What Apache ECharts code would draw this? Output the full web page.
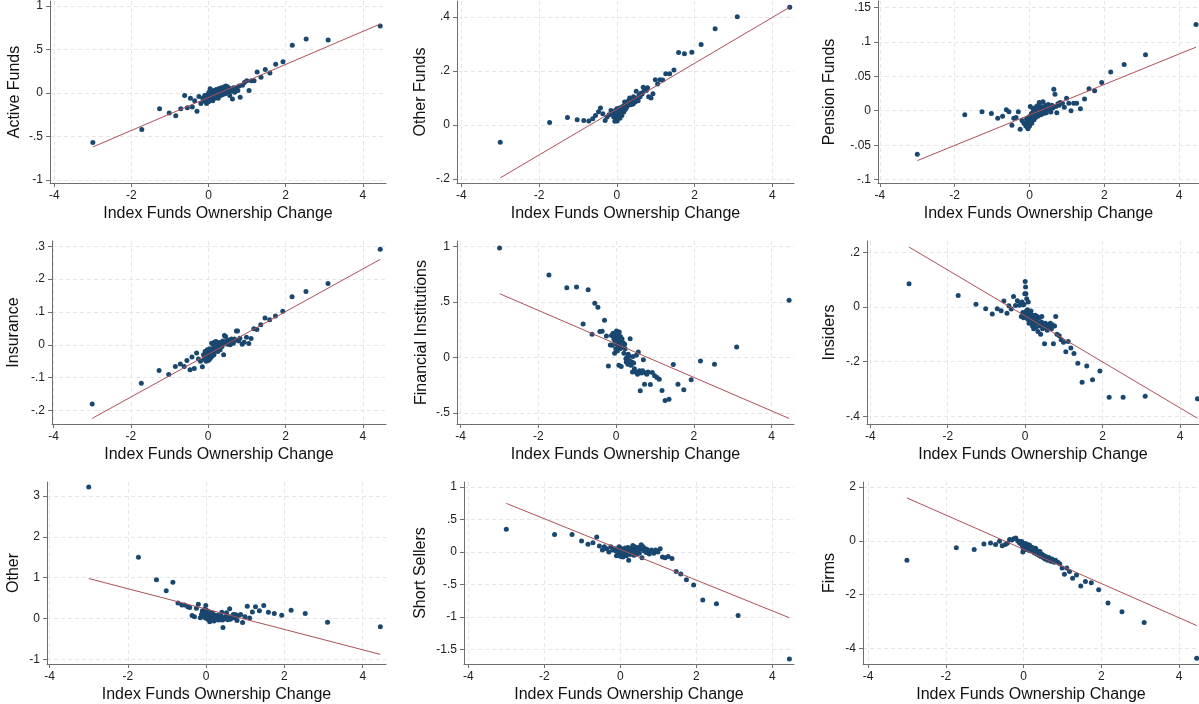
<!DOCTYPE html>
<html>
<head>
<meta charset="utf-8">
<script src="https://cdn.jsdelivr.net/npm/echarts@6/dist/echarts.min.js"></script>
<style>
  html, body { margin: 0; padding: 0; background: #fff; }
  #chart { width: 1199px; height: 704px; }
</style>
</head>
<body>
<div id="chart"></div>
<script>
// shared x: index funds ownership change (left tail, cluster, right tail)
var xChange = [
  -3.0, -1.73, -1.27, -1.02, -0.85, -0.72, -0.62, -0.55, -0.47, -0.42, -0.36, -0.30, -0.25, -0.20, -0.15,
  -0.12, -0.10, -0.08, -0.06, -0.05, -0.04, -0.03, -0.02, -0.01, 0.00,
  0.01, 0.02, 0.03, 0.04, 0.05, 0.06, 0.07, 0.08, 0.09, 0.10,
  0.11, 0.12, 0.13, 0.14, 0.15, 0.16, 0.18, 0.19, 0.20, 0.22,
  0.23, 0.25, 0.26, 0.28, 0.30, 0.31, 0.33, 0.35, 0.36, 0.38,
  0.40, 0.42, 0.43, 0.45, 0.47, 0.50, 0.52, 0.55, 0.57, 0.60,
  0.62, 0.65, 0.68, 0.70, 0.73, 0.76, 0.79, 0.82,
  0.88, 0.93, 0.99, 1.05, 1.11, 1.18, 1.26, 1.36, 1.47, 1.59, 1.74, 1.93, 2.17, 2.53, 3.1, 4.45
];

var activeFunds = [
  -0.57, -0.42, -0.18, -0.23, -0.26, -0.18, -0.03, -0.17, -0.06, -0.16, -0.09, -0.21, -0.04, -0.12, -0.06,
  -0.09, -0.03, -0.10, -0.05, -0.12, -0.07, -0.02, -0.08, -0.04, -0.10,
  0.01, -0.06, -0.03, 0.05, -0.08, -0.01, -0.05, 0.02, -0.07, -0.03,
  -0.09, 0.00, -0.05, 0.03, -0.02, -0.06, 0.01, -0.04, 0.04, -0.02,
  0.02, -0.06, 0.05, 0.00, 0.03, -0.03, 0.06, 0.01, -0.02, 0.04,
  0.07, 0.02, -0.01, 0.08, 0.04, 0.07, 0.01, -0.03, 0.05, 0.02,
  -0.07, 0.06, 0.01, 0.04, 0.06, 0.03, 0.08, -0.05,
  0.09, 0.12, 0.14, 0.03, 0.14, 0.14, 0.24, 0.18, 0.27, 0.23, 0.33, 0.36, 0.55, 0.62, 0.61, 0.77
];
var otherFunds = [
  -0.064, 0.009, 0.028, 0.020, 0.017, 0.015, 0.023, 0.035, 0.049, 0.063, 0.042, 0.017, 0.030, 0.038, 0.054,
  0.040, 0.045, 0.030, 0.050, 0.014, 0.038, 0.055, 0.020, 0.045, 0.060,
  0.015, 0.035, 0.050, 0.028, 0.062, 0.040, 0.052, 0.025, 0.058, 0.045,
  0.065, 0.050, 0.035, 0.060, 0.055, 0.070, 0.048, 0.062, 0.085, 0.058,
  0.070, 0.065, 0.080, 0.072, 0.090, 0.078, 0.100, 0.085, 0.075, 0.095,
  0.088, 0.078, 0.105, 0.092, 0.085, 0.125, 0.098, 0.090, 0.110, 0.105,
  0.118, 0.115, 0.140, 0.125, 0.135, 0.128, 0.138, 0.105,
  0.100, 0.116, 0.168, 0.152, 0.168, 0.167, 0.190, 0.190, 0.204, 0.269, 0.264, 0.270, 0.299, 0.357, 0.402, 0.437
];
var pensionFunds = [
  -0.063, -0.006, -0.0015, -0.004, -0.011, -0.008, 0.0015, -0.0015, -0.021, -0.011, -0.0097, -0.0015, -0.027, -0.014, -0.018,
  -0.018, -0.022, -0.012, -0.024, -0.016, -0.026, -0.010, -0.020, -0.014, -0.022,
  -0.008, 0.006, -0.015, -0.010, -0.004, -0.018, -0.006, -0.012, 0.003, -0.009,
  -0.002, -0.013, 0.004, -0.006, 0.000, -0.010, 0.003, -0.004, 0.007, -0.008,
  0.002, -0.005, 0.012, 0.000, -0.006, 0.006, -0.002, 0.003, 0.013, -0.004,
  0.005, 0.000, 0.008, -0.003, 0.004, 0.009, 0.002, 0.006, -0.002, 0.008,
  0.004, 0.031, 0.024, 0.006, -0.003, 0.010, 0.008, 0.012,
  0.011, 0.005, 0.018, 0.011, 0.000, 0.011, 0.011, 0.003, 0.017, 0.032, 0.029, 0.041, 0.056, 0.067, 0.081, 0.125
];
var insurance = [
  -0.18, -0.117, -0.078, -0.09, -0.066, -0.058, -0.066, -0.048, -0.076, -0.037, -0.072, -0.025, -0.043, -0.05, -0.067,
  -0.030, -0.045, -0.020, -0.038, -0.050, -0.025, -0.042, -0.015, -0.035, -0.048,
  -0.020, -0.030, -0.045, -0.012, -0.028, -0.040, -0.018, -0.025, 0.005, -0.035,
  -0.015, -0.022, 0.002, -0.010, -0.030, 0.008, -0.018, -0.005, 0.010, -0.012,
  0.000, -0.020, 0.006, -0.008, 0.002, -0.015, 0.008, 0.000, -0.005, 0.012,
  -0.030, 0.028, 0.005, 0.025, 0.010, 0.002, 0.015, 0.008, 0.000, 0.018,
  0.012, 0.005, 0.018, 0.014, 0.042, 0.042, 0.012, 0.020,
  0.002, 0.008, 0.023, 0.004, 0.019, 0.049, 0.047, 0.061, 0.082, 0.076, 0.088, 0.102, 0.146, 0.162, 0.187, 0.291
];
var financialInst = [
  0.987, 0.744, 0.63, 0.636, 0.303, 0.612, 0.21, 0.489, 0.453, 0.234, 0.237, 0.336, 0.195, -0.075, 0.114,
  0.20, 0.11, 0.22, 0.17, 0.19, 0.04, 0.15, 0.20, 0.08, 0.18,
  0.24, 0.12, 0.06, 0.20, 0.16, 0.10, -0.07, 0.23, 0.13, 0.08,
  0.19, 0.15, -0.08, 0.11, 0.17, 0.14, 0.09, 0.13, 0.04, 0.12,
  0.08, -0.01, -0.04, 0.00, -0.06, 0.03, 0.01, -0.03, 0.17, -0.07,
  -0.04, -0.13, 0.01, -0.05, -0.10, -0.13, 0.02, -0.15, 0.05, -0.12,
  -0.30, -0.14, -0.12, -0.02, -0.24, -0.14, -0.15, -0.13,
  -0.243, -0.135, -0.165, -0.18, -0.195, -0.297, -0.387, -0.375, -0.063, -0.24, -0.29, -0.20, -0.03, -0.06, 0.096, 0.516
];
var insiders = [
  0.085, 0.042, 0.01, -0.007, -0.026, -0.007, -0.014, 0.022, -0.023, 0.004, -0.008, 0.038, 0.005, 0.023, 0.006,
  0.012, -0.035, 0.018, -0.020, 0.008, -0.040, 0.010, -0.025, 0.048, 0.093,
  0.073, 0.048, -0.015, 0.030, -0.030, -0.010, -0.045, 0.018, -0.020, -0.060,
  -0.035, -0.050, -0.025, -0.040, -0.015, -0.055, -0.030, -0.070, -0.045, -0.080,
  -0.040, -0.060, -0.030, -0.075, -0.050, -0.035, -0.090, -0.060, -0.040, -0.070,
  -0.100, -0.055, -0.035, -0.080, -0.065, -0.135, -0.060, -0.075, -0.085, -0.065,
  -0.070, -0.060, -0.080, -0.065, -0.135, -0.070, -0.035, -0.100,
  -0.105, -0.12, -0.129, -0.164, -0.126, -0.15, -0.17, -0.206, -0.275, -0.216, -0.266, -0.234, -0.33, -0.33, -0.327, -0.336
];
var otherOwners = [
  3.22, 1.50, 0.95, 0.68, 0.89, 0.38, 0.33, 0.33, 0.29, 0.27, 0.07, 0.04, 0.25, 0.35, 0.02,
  0.10, 0.18, 0.05, 0.13, 0.22, 0.08, 0.15, 0.01, 0.32, 0.12,
  0.20, 0.06, 0.14, -0.02, 0.10, 0.17, 0.03, 0.08, -0.08, 0.12,
  0.04, -0.05, 0.09, 0.01, 0.14, -0.03, 0.06, 0.10, -0.06, 0.03,
  0.07, -0.02, 0.05, 0.00, 0.08, -0.04, 0.04, 0.01, -0.03, 0.06,
  0.15, -0.04, -0.22, 0.02, 0.00, 0.05, 0.14, -0.03, 0.04, 0.24,
  -0.02, 0.03, 0.08, 0.10, 0.01, 0.09, -0.05, 0.06,
  0.10, -0.10, 0.04, 0.30, 0.01, 0.16, 0.29, 0.19, 0.32, 0.15, 0.12, 0.08, 0.20, 0.12, -0.09, -0.20
];
var shortSellers = [
  0.35, 0.27, 0.27, 0.17, 0.12, 0.14, 0.23, 0.09, 0.03, 0.08, 0.05, 0.00, 0.08, 0.03, 0.05,
  0.02, -0.06, 0.05, -0.02, 0.03, -0.05, 0.08, 0.00, -0.03, 0.06,
  -0.07, 0.02, -0.01, 0.04, -0.04, 0.01, -0.08, 0.03, -0.02, 0.05,
  -0.05, 0.00, 0.06, -0.03, 0.02, -0.06, 0.04, -0.01, 0.07, -0.13,
  0.01, 0.04, -0.04, 0.03, 0.06, -0.02, 0.10, 0.02, -0.05, 0.08,
  0.00, 0.05, -0.03, 0.03, 0.07, -0.02, 0.04, 0.11, -0.09, 0.08,
  0.02, 0.05, -0.01, 0.04, 0.02, -0.03, 0.01, 0.03,
  -0.02, 0.03, 0.00, 0.05, -0.08, -0.09, -0.07, -0.10, -0.30, -0.34, -0.43, -0.51, -0.74, -0.80, -0.98, -1.65
];
var firms = [
  -0.72, -0.26, -0.32, -0.12, -0.08, -0.14, -0.02, -0.18, -0.14, -0.09, 0.05, 0.03, 0.08, 0.10, -0.01,
  -0.02, -0.08, -0.05, -0.12, -0.03, -0.10, -0.18, -0.42, -0.30, -0.35,
  -0.15, -0.22, -0.10, -0.28, -0.18, -0.25, -0.12, -0.20, -0.32, -0.15,
  -0.26, -0.20, -0.35, -0.24, -0.16, -0.30, -0.22, -0.38, -0.28, -0.33,
  -0.25, -0.40, -0.30, -0.45, -0.36, -0.28, -0.42, -0.50, -0.38, -0.45,
  -0.55, -0.40, -0.48, -0.58, -0.50, -0.62, -0.55, -0.68, -0.58, -0.65,
  -0.72, -0.62, -0.70, -0.76, -0.68, -0.75, -0.80, -0.72,
  -0.80, -0.85, -1.01, -1.24, -1.01, -1.14, -1.39, -1.27, -1.68, -1.51, -1.56, -1.82, -2.31, -2.64, -3.04, -4.37
];

// linear fit lines: value at x = -3 and x = 4.45
var fitX = [-3.0, 4.45];
var fitStartY = [-0.62, -0.196, -0.0724, -0.224, 0.576, 0.219, 0.978, 0.748, 1.593];
var fitEndY = [0.793, 0.437, 0.0922, 0.26, -0.549, -0.407, -0.88, -1.014, -3.15];

var panelNames = ['Active Funds', 'Other Funds', 'Pension Funds', 'Insurance',
  'Financial Institutions', 'Insiders', 'Other', 'Short Sellers', 'Firms'];
var panelSeries = [activeFunds, otherFunds, pensionFunds, insurance,
  financialInst, insiders, otherOwners, shortSellers, firms];

var xTicks = [-4, -2, 0, 2, 4];
var yTicks = [
  [-1, -0.5, 0, 0.5, 1],
  [-0.2, 0, 0.2, 0.4],
  [-0.1, -0.05, 0, 0.05, 0.1, 0.15],
  [-0.2, -0.1, 0, 0.1, 0.2, 0.3],
  [-0.5, 0, 0.5, 1],
  [-0.4, -0.2, 0, 0.2],
  [-1, 0, 1, 2, 3],
  [-1.5, -1, -0.5, 0, 0.5, 1],
  [-4, -2, 0, 2]
];

// layout: grid box in px, axis extents, y name gap
var layout = [
  {left: 50, top: 1, width: 336, height: 182, x: [-4.11, 4.6], y: [-1.034, 1.057], gap: 27},
  {left: 457, top: 1, width: 337, height: 182, x: [-4.113, 4.56], y: [-0.215, 0.46], gap: 28},
  {left: 878, top: 1, width: 321, height: 182, x: [-4.05, 4.53], y: [-0.1048, 0.1591], gap: 40},
  {left: 52, top: 241, width: 334, height: 183, x: [-4.04, 4.6], y: [-0.241, 0.316], gap: 30},
  {left: 457, top: 241, width: 337, height: 183, x: [-4.095, 4.576], y: [-0.599, 1.051], gap: 27},
  {left: 867, top: 241, width: 332, height: 183, x: [-4.085, 4.49], y: [-0.428, 0.241], gap: 29},
  {left: 47, top: 482, width: 339, height: 182, x: [-4.066, 4.594], y: [-1.115, 3.342], gap: 25},
  {left: 464, top: 482, width: 330, height: 182, x: [-4.113, 4.571], y: [-1.726, 1.077], gap: 35},
  {left: 863, top: 482, width: 336, height: 182, x: [-4.129, 4.51], y: [-4.58, 2.185], gap: 25}
];

var FONT = 'Liberation Sans, Arial, sans-serif';
var axisGray = '#6f6f6f';

function stataLabel(v) {
  var s = String(Math.round(v * 1000) / 1000);
  return s.replace(/^(-?)0\./, '$1.');
}

var grids = [], xAxes = [], yAxes = [], series = [];
for (var i = 0; i < 9; i++) {
  var L = layout[i];
  grids.push({left: L.left, top: L.top, width: L.width, height: L.height, containLabel: false, outerBoundsMode: 'none'});
  xAxes.push({
    type: 'value', gridIndex: i, min: L.x[0], max: L.x[1],
    name: 'Index Funds Ownership Change', nameLocation: 'middle', nameGap: 23,
    nameTextStyle: {fontFamily: FONT, fontSize: 16, color: '#111'},
    axisLine: {show: true, onZero: false, lineStyle: {color: axisGray, width: 1}},
    axisTick: {show: true, length: 4, customValues: xTicks, lineStyle: {color: axisGray}},
    axisLabel: {customValues: xTicks, margin: 7, fontFamily: FONT, fontSize: 12, color: '#222', formatter: stataLabel},
    splitLine: {show: true, lineStyle: {color: '#e6e6e6', type: [4, 3], width: 1}}
  });
  yAxes.push({
    type: 'value', gridIndex: i, min: L.y[0], max: L.y[1],
    name: panelNames[i], nameLocation: 'middle', nameGap: L.gap,
    nameTextStyle: {fontFamily: FONT, fontSize: 16, color: '#111'},
    axisLine: {show: true, onZero: false, lineStyle: {color: axisGray, width: 1}},
    axisTick: {show: true, length: 4, customValues: yTicks[i], lineStyle: {color: axisGray}},
    axisLabel: {customValues: yTicks[i], margin: 7, fontFamily: FONT, fontSize: 12, color: '#222', formatter: stataLabel},
    splitLine: {show: true, lineStyle: {color: '#e6e6e6', type: [4, 3], width: 1}}
  });
  var pts = [];
  for (var k = 0; k < xChange.length; k++) pts.push([xChange[k], panelSeries[i][k]]);
  series.push({
    type: 'scatter', xAxisIndex: i, yAxisIndex: i, data: pts,
    symbolSize: 5, itemStyle: {color: '#1a476f', opacity: 1}, silent: true
  });
  series.push({
    type: 'line', xAxisIndex: i, yAxisIndex: i,
    data: [[fitX[0], fitStartY[i]], [fitX[1], fitEndY[i]]],
    showSymbol: false, symbol: 'none', z: 3, silent: true,
    lineStyle: {color: '#ad5157', width: 1}
  });
}

var chart = echarts.init(document.getElementById('chart'), null, {renderer: 'canvas'});
chart.setOption({
  backgroundColor: '#ffffff',
  animation: false,
  grid: grids,
  xAxis: xAxes,
  yAxis: yAxes,
  series: series
});
</script>
</body>
</html>
